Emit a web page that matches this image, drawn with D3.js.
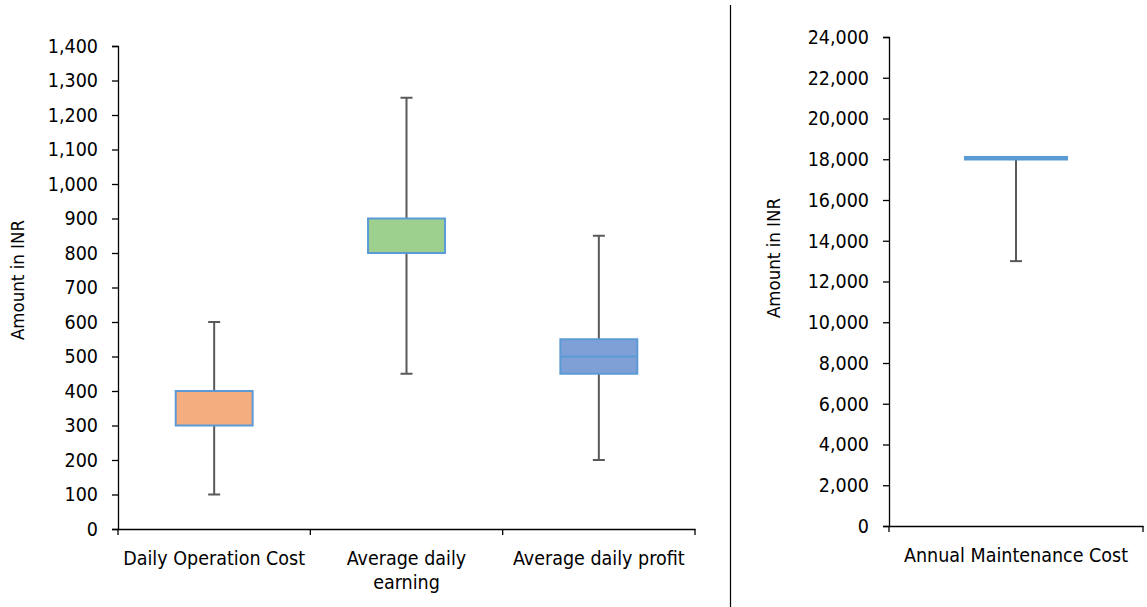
<!DOCTYPE html>
<html><head><meta charset="utf-8">
<script src="https://cdn.jsdelivr.net/npm/d3@7"></script>
<style>
body{margin:0;background:#fff;}
text{font-family:"DejaVu Sans Condensed","DejaVu Sans",sans-serif;font-stretch:condensed;fill:#000;}
</style></head><body>
<svg id="c" width="1147" height="607"></svg>
<script>
// Left chart data
const categories = ["Daily Operation Cost", "Average daily earning", "Average daily profit"];
const mins    = [100, 450, 200];
const q1s     = [300, 800, 450];
const medians = [300, 800, 500];
const q3s     = [400, 900, 550];
const maxs    = [600, 1250, 850];
const fills   = ["#f4ad7f", "#9dd08e", "#7fa0d6"];
const leftTicks = [0,100,200,300,400,500,600,700,800,900,1000,1100,1200,1300,1400];

// Right chart data
const rightCategories = ["Annual Maintenance Cost"];
const rMins = [13000], rQ1 = [18000], rMed = [18050], rQ3 = [18100], rMax = [18100];
const rightTicks = [0,2000,4000,6000,8000,10000,12000,14000,16000,18000,20000,22000,24000];

const svg = d3.select("#c");
const fmt = d3.format(",");
const edge = "#5b9bd5", whisk = "#595959";
const FONT = "'DejaVu Sans Condensed','DejaVu Sans',sans-serif";

function drawChart(cfg){
  const g = svg.append("g");
  const x = d3.scaleBand().domain(cfg.cats).range([cfg.x0, cfg.x1]);
  const y = d3.scaleLinear().domain([0, d3.max(cfg.ticks)]).range([cfg.y0, cfg.y1]);
  const ya = g.append("g").attr("transform",`translate(${cfg.x0},0)`)
    .call(d3.axisLeft(y).tickValues(cfg.ticks).tickFormat(fmt).tickSize(6).tickPadding(14));
  ya.select(".domain").attr("stroke","#000").attr("stroke-width",1.3);
  ya.selectAll(".tick line").attr("stroke","#000").attr("stroke-width",1.3);
  ya.selectAll(".tick text").attr("font-size",19.5).attr("font-family",FONT).attr("fill","#000");
  const xa = g.append("g").attr("transform",`translate(0,${cfg.y0})`)
    .call(d3.axisBottom(x).tickSize(0).tickFormat(""));
  xa.select(".domain").attr("stroke","#000").attr("stroke-width",1.3);
  const bounds = [cfg.x0].concat(cfg.cats.map(c=>x(c)+x.bandwidth()));
  g.selectAll(".xt").data(bounds).enter().append("line")
    .attr("x1",d=>d).attr("x2",d=>d).attr("y1",cfg.y0).attr("y2",cfg.y0+6)
    .attr("stroke","#000").attr("stroke-width",1.3);
  cfg.cats.forEach((c,i)=>{
    const lines = cfg.labelLines[i];
    const t = g.append("text").attr("text-anchor","middle").attr("font-size",19.5)
      .attr("x", x(c)+x.bandwidth()/2).attr("y", cfg.y0+36);
    lines.forEach((l,j)=>t.append("tspan").attr("x",x(c)+x.bandwidth()/2).attr("dy", j?24:0).text(l));
  });
  g.append("text").attr("transform",`translate(${cfg.titleX},${cfg.titleY}) rotate(-90)`)
    .attr("text-anchor","middle").attr("font-size",18.5).text("Amount in INR");
  const bw = x.bandwidth()*0.4;
  cfg.cats.forEach((c,i)=>{
    const cx = x(c)+x.bandwidth()/2;
    g.append("line").attr("x1",cx).attr("x2",cx).attr("y1",y(cfg.maxs[i])).attr("y2",y(cfg.q3s[i]))
      .attr("stroke",whisk).attr("stroke-width",2);
    g.append("line").attr("x1",cx).attr("x2",cx).attr("y1",y(cfg.q1s[i])).attr("y2",y(cfg.mins[i]))
      .attr("stroke",whisk).attr("stroke-width",2);
    [cfg.maxs[i], cfg.mins[i]].forEach(v=>{
      if (v === cfg.q3s[i]) return;
      g.append("line").attr("x1",cx-6).attr("x2",cx+6).attr("y1",y(v)).attr("y2",y(v))
        .attr("stroke",whisk).attr("stroke-width",2);
    });
    g.append("rect").attr("x",cx-bw/2).attr("width",bw)
      .attr("y",y(cfg.q3s[i])).attr("height",Math.max(0,y(cfg.q1s[i])-y(cfg.q3s[i])))
      .attr("fill",cfg.fills[i]).attr("stroke",edge).attr("stroke-width",cfg.boxStroke);
    if (cfg.medians[i] !== cfg.q1s[i] && cfg.medians[i] !== cfg.q3s[i] && cfg.showMedian)
      g.append("line").attr("x1",cx-bw/2).attr("x2",cx+bw/2).attr("y1",y(cfg.medians[i])).attr("y2",y(cfg.medians[i]))
        .attr("stroke",edge).attr("stroke-width",2);
  });
}

drawChart({cats:categories, x0:118, x1:695, y0:529, y1:46, ticks:leftTicks,
  mins, q1s, medians, q3s, maxs, fills, boxStroke:2, showMedian:true,
  labelLines:[["Daily Operation Cost"],["Average daily","earning"],["Average daily profit"]],
  titleX:24, titleY:280});

drawChart({cats:rightCategories, x0:889, x1:1143, y0:526, y1:37, ticks:rightTicks,
  mins:rMins, q1s:rQ1, medians:rMed, q3s:rQ3, maxs:rMax, fills:["#5b9bd5"], boxStroke:2.5, showMedian:false,
  labelLines:[["Annual Maintenance Cost"]], titleX:780, titleY:258});

svg.append("line").attr("x1",730.5).attr("x2",730.5).attr("y1",5).attr("y2",607)
  .attr("stroke","#000").attr("stroke-width",1.2);
</script>
</body></html>
